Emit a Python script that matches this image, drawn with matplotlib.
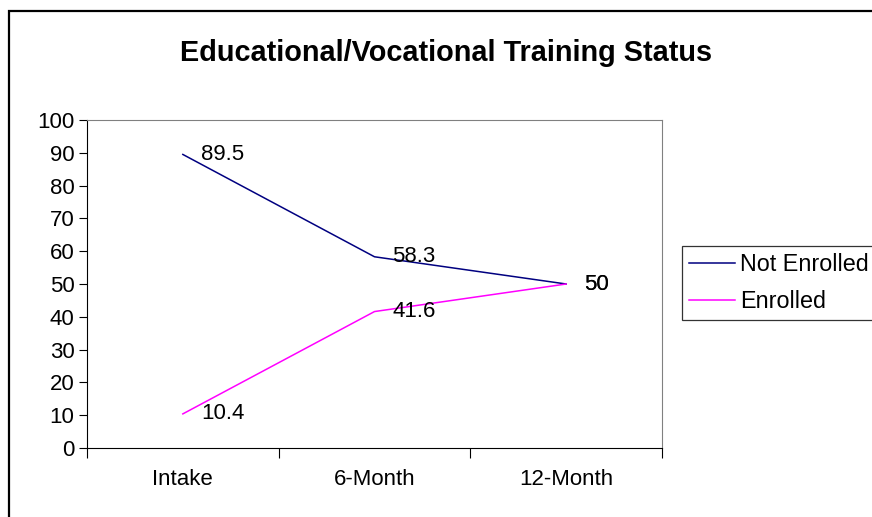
import matplotlib
matplotlib.use('Agg')
import matplotlib.pyplot as plt
from matplotlib.patches import Rectangle

plt.rcParams['font.family'] = ['Liberation Sans', 'DejaVu Sans']

categories = ['Intake', '6-Month', '12-Month']
not_enrolled = [89.5, 58.3, 50]
enrolled = [10.4, 41.6, 50]
y_ticks = list(range(0, 101, 10))

fs = 16

fig = plt.figure(figsize=(8.72, 5.17), dpi=100)
ax = fig.add_axes([87 / 872, 1 - 448 / 517, 575 / 872, 328 / 517])

x = range(len(categories))
ax.plot(x, not_enrolled, color='#000080', lw=1.1, label='Not Enrolled')
ax.plot(x, enrolled, color='#FF00FF', lw=1.1, label='Enrolled')

for xi, v in zip(x, not_enrolled):
    ax.annotate('{0:g}'.format(v), (xi, v), xytext=(13, 0), textcoords='offset points',
                ha='left', va='center', fontsize=fs)
for xi, v in zip(x, enrolled):
    ax.annotate('{0:g}'.format(v), (xi, v), xytext=(13, 0), textcoords='offset points',
                ha='left', va='center', fontsize=fs)

ax.set_xlim(-0.5, 2.5)
ax.set_ylim(0, 100)
ax.set_yticks(y_ticks)
ax.tick_params(axis='y', labelsize=fs, length=6, direction='out', width=0.8, pad=3)

ax.set_xticks([-0.5, 0.5, 1.5, 2.5])
ax.set_xticklabels([])
ax.tick_params(axis='x', which='major', length=7, direction='out', width=0.8)
ax.set_xticks(list(x), minor=True)
ax.set_xticklabels(categories, minor=True)
ax.tick_params(axis='x', which='minor', length=0, labelsize=fs, pad=15)

for side in ['top', 'right']:
    ax.spines[side].set_color('#808080')
for side in ['left', 'bottom']:
    ax.spines[side].set_color('black')

fig.text(446 / 872, 1 - 53 / 517, 'Educational/Vocational Training Status',
         ha='center', va='center', fontsize=20.8, fontweight='bold')

leg = fig.legend(loc='upper left', bbox_to_anchor=(682 / 872, 1 - 246 / 517),
                 fontsize=16.8, frameon=True, fancybox=False, handlelength=1.95,
                 handletextpad=0.25, labelspacing=0.6, borderpad=0.3,
                 borderaxespad=0)
leg.get_frame().set_edgecolor('black')
leg.get_frame().set_linewidth(0.9)

fig.patches.append(Rectangle((9 / 872, -0.1), 1.2, 1 - 11 / 517 + 0.1,
                             transform=fig.transFigure, fill=False,
                             edgecolor='black', lw=1.6))

fig.savefig('out.png', dpi=100)
